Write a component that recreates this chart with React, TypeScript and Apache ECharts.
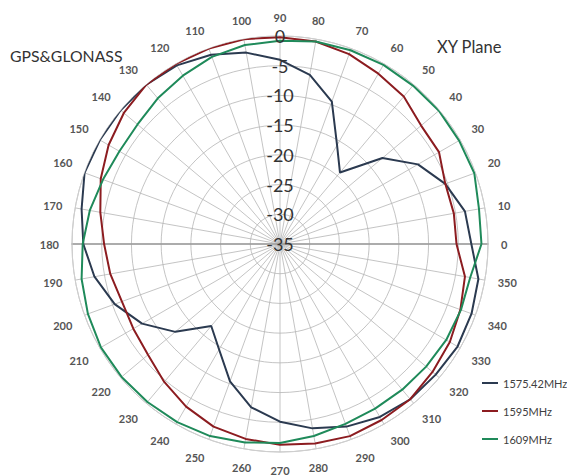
import React, { useEffect, useRef } from "react";
import * as echarts from "echarts";

// Angles (degrees) at which the patterns were sampled
const angles = [
  0, 10, 20, 30, 40, 50, 60, 70, 80, 90, 100, 110, 120, 130, 140, 150, 160, 170,
  180, 190, 200, 210, 220, 230, 240, 250, 260, 270, 280, 290, 300, 310, 320, 330, 340, 350,
];

// Gain (dB) per angle
const gain1575 = [
  -2.8, -3.4, -5.4, -8.2, -12.5, -19.3, -15.8, -9.5, -6.1, -4.0, -2.3, -1.1, -0.3, 0, 0, 0, 0, -1.1,
  -1.9, -3.3, -5.4, -8.2, -12.0, -17.0, -14.5, -10.4, -7.1, -5.1, -3.5, -2.3, -1.4, -0.9, -0.8, -0.5, -0.7, -1.1,
];
const gain1595 = [
  -5.3, -5.3, -5.4, -4.1, -4.0, -2.6, -1.9, -1.0, -0.4, -0.2, 0, 0, 0, 0, -0.7, -1.7, -2.9, -4.3,
  -5.4, -6.0, -6.7, -6.5, -6.0, -4.7, -3.4, -2.3, -1.7, -1.2, -0.9, -0.6, -0.8, -0.9, -1.5, -2.0, -2.7, -3.4,
];
const gain1609 = [
  -1.1, -1.0, -0.2, -0.2, -0.1, -0.2, -0.2, -0.3, -0.4, -0.8, -1.0, -1.5, -2.3, -3.0, -3.7, -3.8, -3.3, -2.5,
  -1.8, -1.1, -0.6, -0.2, -0.2, -0.3, -0.4, -0.6, -1.1, -1.5, -2.2, -2.8, -3.0, -3.0, -2.9, -2.7, -2.6, -2.5,
];

const seriesNames = ["1575.42MHz", "1595MHz", "1609MHz"];
const seriesColors = ["#2b3a50", "#8c1c20", "#1f8a5a"];

const radiusMin = -35;
const radiusMax = 0;
const radiusStep = 5;
const angleStep = 10;

const chartTitle = "GPS&GLONASS";
const planeTitle = "XY Plane";

const FONT = "Lato, 'Liberation Sans', sans-serif";

function loop(values: number[]) {
  const pts = angles.map((a, i) => [values[i], a]);
  pts.push([values[0], 360]);
  return pts;
}

export default function App() {
  const ref = useRef<HTMLDivElement>(null);

  useEffect(() => {
    if (!ref.current) return;
    const chart = echarts.init(ref.current, null, { renderer: "svg" });
    const center = [280, 244];
    const radius = 208;
    const gridColor = "#b5b5b5";

    const option: any = {
      animation: false,
      backgroundColor: "#ffffff",
      textStyle: { fontFamily: FONT },
      title: [
        {
          text: chartTitle,
          left: 5,
          top: 42,
          textStyle: { fontFamily: FONT, fontSize: 15.8, fontWeight: "normal", color: "#333" },
        },
        {
          text: planeTitle,
          left: 432,
          top: 33,
          textStyle: { fontFamily: FONT, fontSize: 16.5, fontWeight: "normal", color: "#333" },
        },
      ],
      legend: {
        orient: "vertical",
        left: 477,
        top: 371,
        icon: "rect",
        itemWidth: 16,
        itemHeight: 2,
        itemGap: 14,
        data: seriesNames,
        textStyle: { fontFamily: FONT, fontSize: 11, color: "#404040", lineHeight: 14 },
      },
      polar: [
        { center, radius },
        { center, radius },
        { center, radius },
      ],
      angleAxis: [
        {
          polarIndex: 0,
          type: "value",
          min: 0,
          max: 360,
          interval: angleStep,
          startAngle: 0,
          clockwise: false,
          axisLine: { show: true, lineStyle: { color: "#cfcfcf", width: 1 } },
          axisTick: { show: false },
          axisLabel: {
            margin: 13,
            fontFamily: FONT,
            fontSize: 11,
            fontWeight: "bold",
            color: "#555",
            formatter: (v: number) => (v >= 360 ? "" : String(v)),
          },
          splitLine: { show: true, lineStyle: { color: gridColor, width: 0.8 } },
        },
        { polarIndex: 1, type: "value", min: 0, max: 360, startAngle: 90, show: false },
        { polarIndex: 2, type: "value", min: 0, max: 360, startAngle: 180, show: false },
      ],
      radiusAxis: [
        {
          polarIndex: 0,
          type: "value",
          min: radiusMin,
          max: radiusMax,
          interval: radiusStep,
          axisLine: { show: true, lineStyle: { color: "#9a9a9a", width: 1.6 } },
          axisTick: { show: false },
          axisLabel: { show: false },
          splitLine: { show: true, lineStyle: { color: gridColor, width: 0.8 } },
        },
        {
          polarIndex: 1,
          type: "value",
          min: radiusMin,
          max: radiusMax,
          interval: radiusStep,
          z: 5,
          axisLine: { show: false },
          axisTick: { show: false },
          splitLine: { show: false },
          axisLabel: {
            show: true,
            margin: 0,
            align: "center",
            verticalAlign: "middle",
            showMinLabel: true,
            showMaxLabel: true,
            fontFamily: FONT,
            fontSize: 18,
            color: "#333",
          },
        },
        {
          polarIndex: 2,
          type: "value",
          min: radiusMin,
          max: radiusMax,
          interval: radiusStep,
          axisLine: { show: true, lineStyle: { color: "#9a9a9a", width: 1.6 } },
          axisTick: { show: false },
          axisLabel: { show: false },
          splitLine: { show: false },
        },
      ],
      series: [gain1575, gain1595, gain1609].map((vals, i) => ({
        name: seriesNames[i],
        type: "line",
        coordinateSystem: "polar",
        polarIndex: 0,
        data: loop(vals),
        showSymbol: false,
        symbol: "none",
        smooth: false,
        z: 3,
        lineStyle: { color: seriesColors[i], width: 2 },
        itemStyle: { color: seriesColors[i] },
      })),
    };

    chart.setOption(option);
    return () => chart.dispose();
  }, []);

  return (
    <div
      ref={ref}
      style={{ position: "fixed", left: 0, top: 0, width: 567, height: 476, background: "#fff" }}
    />
  );
}
